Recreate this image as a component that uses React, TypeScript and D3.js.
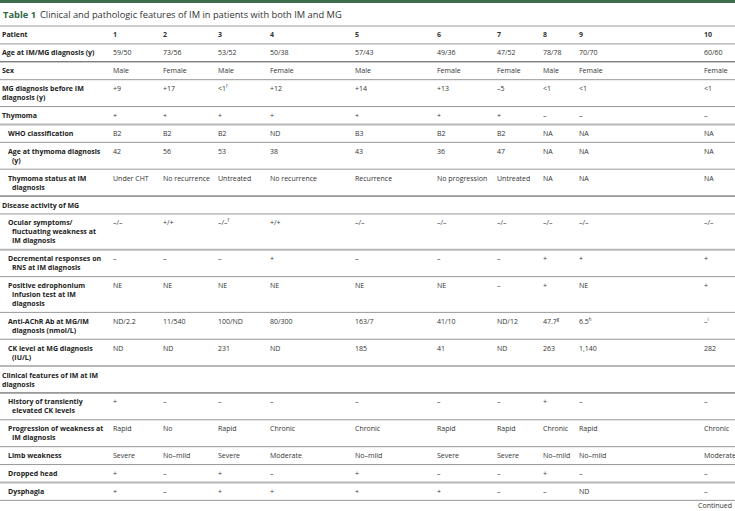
import React from "react";
import * as d3 from "d3";

const patients = ["1", "2", "3", "4", "5", "6", "7", "8", "9", "10"];
const ageAtDiagnosis = ["59/50", "73/56", "53/52", "50/38", "57/43", "49/36", "47/52", "78/78", "70/70", "60/60"];
const sex = ["Male", "Female", "Male", "Female", "Male", "Female", "Female", "Male", "Female", "Female"];
const mgBeforeIm = ["+9", "+17", "<1^f", "+12", "+14", "+13", "–5", "<1", "<1", "<1"];
const thymoma = ["+", "+", "+", "+", "+", "+", "+", "–", "–", "–"];
const whoClass = ["B2", "B2", "B2", "ND", "B3", "B2", "B2", "NA", "NA", "NA"];
const ageThymoma = ["42", "56", "53", "38", "43", "36", "47", "NA", "NA", "NA"];
const thymomaStatus = ["Under CHT", "No recurrence", "Untreated", "No recurrence", "Recurrence", "No progression", "Untreated", "NA", "NA", "NA"];
const ocular = ["–/–", "+/+", "–/–^f", "+/+", "–/–", "–/–", "–/–", "–/–", "–/–", "–/–"];
const decremental = ["–", "–", "–", "+", "–", "–", "–", "+", "+", "+"];
const edrophonium = ["NE", "NE", "NE", "NE", "NE", "NE", "–", "+", "NE", "+"];
const antiAChR = ["ND/2.2", "11/540", "100/ND", "80/300", "163/7", "41/10", "ND/12", "47.7^g", "6.5^h", "–^i"];
const ckLevel = ["ND", "ND", "231", "ND", "185", "41", "ND", "263", "1,140", "282"];
const historyCK = ["+", "–", "–", "–", "–", "–", "–", "+", "–", "–"];
const progression = ["Rapid", "No", "Rapid", "Chronic", "Chronic", "Rapid", "Rapid", "Chronic", "Rapid", "Chronic"];
const limbWeakness = ["Severe", "No–mild", "Severe", "Moderate", "No–mild", "Severe", "Severe", "No–mild", "No–mild", "Moderate"];
const droppedHead = ["+", "–", "+", "–", "+", "–", "–", "+", "–", "–"];
const dysphagia = ["+", "–", "+", "+", "+", "+", "–", "–", "ND", "–"];

const titleLabel = "Table 1";
const titleText = "Clinical and pathologic features of IM in patients with both IM and MG";
const footerText = "Continued";

type Row = { label: string[]; level: number; values: string[] | null; header?: boolean };

const rows: Row[] = [
  { label: ["Patient"], level: 0, values: patients, header: true },
  { label: ["Age at IM/MG diagnosis (y)"], level: 0, values: ageAtDiagnosis },
  { label: ["Sex"], level: 0, values: sex },
  { label: ["MG diagnosis before IM", "diagnosis (y)"], level: 0, values: mgBeforeIm },
  { label: ["Thymoma"], level: 0, values: thymoma },
  { label: ["WHO classification"], level: 1, values: whoClass },
  { label: ["Age at thymoma diagnosis", "(y)"], level: 1, values: ageThymoma },
  { label: ["Thymoma status at IM", "diagnosis"], level: 1, values: thymomaStatus },
  { label: ["Disease activity of MG"], level: 0, values: null },
  { label: ["Ocular symptoms/", "fluctuating weakness at", "IM diagnosis"], level: 1, values: ocular },
  { label: ["Decremental responses on", "RNS at IM diagnosis"], level: 1, values: decremental },
  { label: ["Positive edrophonium", "infusion test at IM", "diagnosis"], level: 1, values: edrophonium },
  { label: ["Anti-AChR Ab at MG/IM", "diagnosis (nmol/L)"], level: 1, values: antiAChR },
  { label: ["CK level at MG diagnosis", "(IU/L)"], level: 1, values: ckLevel },
  { label: ["Clinical features of IM at IM", "diagnosis"], level: 0, values: null },
  { label: ["History of transiently", "elevated CK levels"], level: 1, values: historyCK },
  { label: ["Progression of weakness at", "IM diagnosis"], level: 1, values: progression },
  { label: ["Limb weakness"], level: 1, values: limbWeakness },
  { label: ["Dropped head"], level: 1, values: droppedHead },
  { label: ["Dysphagia"], level: 1, values: dysphagia },
];

// border style after each row: 0 normal, 1 dark, 2 light thick
const borderKinds = [0, 1, 0, 0, 2, 0, 0, 1, 0, 2, 0, 0, 0, 2, 1, 0, 0, 0, 2, 0];

const W = 735;
const H = 511;
const FONT = "'Open Sans', 'Noto Sans', sans-serif";
const colX = [113, 163, 218, 270, 355, 437, 497, 543, 579, 704];

function Cell({ x, y, text, bold }: { x: number; y: number; text: string; bold?: boolean }) {
  const [main, sup] = text.split("^");
  return (
    <text x={x} y={y} fontSize={7} fontWeight={bold ? 700 : 400} fill="#333">
      {main}
      {sup ? (
        <tspan fontSize={4.5} dy={-3}>
          {sup}
        </tspan>
      ) : null}
    </text>
  );
}

export default function App() {
  const lh = 8.95;
  const pad = 8.95;
  const top = 26;
  const xScale = d3.scaleOrdinal<string, number>().domain(patients).range(colX);
  const heights = rows.map((r) => pad + r.label.length * lh);
  const tops = heights.map((_, i) => top + d3.sum(heights.slice(0, i)));
  const bottom = top + d3.sum(heights);

  const borderStyle = (k: number) =>
    k === 1 ? { stroke: "#4a4a4a", w: 1 } : k === 2 ? { stroke: "#b8b8b8", w: 2 } : { stroke: "#8c8c8c", w: 0.9 };

  return (
    <div style={{ position: "absolute", left: 0, top: 0 }}>
      <svg width={W} height={H} style={{ display: "block", fontFamily: FONT, background: "#fff" }}>
        <rect x={0} y={0} width={W} height={3} fill="#3d6e4c" />
        <text x={3} y={18} fontSize={9.3} fill="#333">
          <tspan fontWeight={700} fill="#2f6a45">
            {titleLabel}
          </tspan>
          <tspan dx={4}>{titleText}</tspan>
        </text>
        <line x1={0} x2={W} y1={top} y2={top} stroke="#9a9a9a" strokeWidth={1} />
        {rows.map((r, i) => {
          const y0 = tops[i];
          const base = y0 + pad / 2 + lh / 2 + 2.5;
          const bs = borderStyle(borderKinds[i]);
          const y1 = y0 + heights[i];
          return (
            <g key={i}>
              {r.label.map((l, j) => (
                <text
                  key={j}
                  x={r.level === 0 ? 2 : j === 0 ? 8 : 12}
                  y={base + j * lh}
                  fontSize={7}
                  fontWeight={700}
                  fill="#222"
                >
                  {l}
                </text>
              ))}
              {r.values
                ? r.values.map((v, k) => (
                    <Cell key={k} x={xScale(patients[k])} y={base} text={v} bold={r.header} />
                  ))
                : null}
              <line x1={0} x2={W} y1={y1} y2={y1} stroke={bs.stroke} strokeWidth={bs.w} />
            </g>
          );
        })}
        <text x={732} y={bottom + 8} fontSize={7} fill="#333" textAnchor="end">
          {footerText}
        </text>
      </svg>
    </div>
  );
}
